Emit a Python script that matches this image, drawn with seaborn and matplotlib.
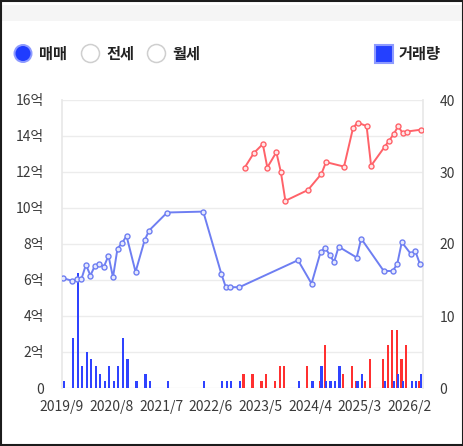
import matplotlib
matplotlib.use("Agg")
import numpy as np
import pandas as pd
import matplotlib.pyplot as plt
import seaborn as sns
from matplotlib.patches import Circle, Rectangle
from matplotlib.ticker import FuncFormatter

sns.set_theme(style="white")
plt.rcParams['font.family'] = ['Noto Sans CJK KR', 'DejaVu Sans']

# x axis runs monthly from 2019/9
tick_labels = ['2019/9', '2020/8', '2021/7', '2022/6', '2023/5', '2024/4', '2025/3', '2026/2']

# 매매 (sale) price, 억
sale_months = ['2019/9', '2019/11', '2019/12', '2020/1', '2020/2', '2020/3', '2020/4', '2020/5',
               '2020/6', '2020/7', '2020/8', '2020/9', '2020/10', '2020/11', '2021/1', '2021/3',
               '2021/4', '2021/8', '2022/4', '2022/8', '2022/9', '2022/10', '2022/12', '2024/1',
               '2024/4', '2024/6', '2024/7', '2024/8', '2024/9', '2024/10', '2025/2', '2025/3',
               '2025/8', '2025/10', '2025/11', '2025/12', '2026/2', '2026/3', '2026/4']
sale_price = [6.1, 5.95, 6.05, 6.05, 6.85, 6.25, 6.8, 6.9, 6.75, 7.35, 6.15, 7.75, 8.05, 8.45,
              6.45, 8.2, 8.75, 9.75, 9.8, 6.35, 5.6, 5.6, 5.6, 7.1, 5.8, 7.55, 7.8, 7.4, 7.0,
              7.85, 7.25, 8.3, 6.5, 6.5, 6.9, 8.1, 7.45, 7.6, 6.9]
sale_count = [1, 7, 16, 3, 5, 4, 3, 2, 1, 3, 1, 3, 7, 4, 1, 2, 1, 1, 1, 1, 1, 1, 1, 1, 1, 3, 1,
              1, 1, 3, 1, 2, 1, 1, 2, 1, 1, 1, 2]

# 전세 (lease) price, 억
lease_months = ['2023/1', '2023/3', '2023/5', '2023/6', '2023/8', '2023/9', '2023/10', '2024/3',
                '2024/6', '2024/7', '2024/11', '2025/1', '2025/2', '2025/4', '2025/5', '2025/8',
                '2025/9', '2025/10', '2025/11', '2025/12', '2026/1', '2026/4']
lease_price = [12.25, 13.05, 13.55, 12.25, 13.1, 12.0, 10.4, 11.0, 11.9, 12.55, 12.3, 14.45,
               14.75, 14.55, 12.35, 13.4, 13.75, 14.1, 14.55, 14.15, 14.25, 14.35]
lease_count = [2, 2, 1, 2, 1, 3, 3, 3, 1, 6, 2, 3, 1, 1, 4, 4, 6, 8, 8, 4, 6, 1]


def month_idx(s):
    y, m = map(int, s.split('/'))
    return (y - 2019) * 12 + (m - 9)


sale = pd.DataFrame({'m': [month_idx(s) for s in sale_months],
                     'price': sale_price, 'count': sale_count})
lease = pd.DataFrame({'m': [month_idx(s) for s in lease_months],
                      'price': lease_price, 'count': lease_count})

blue_line = '#6e7ef2'
red_line = '#ff6269'
blue_bar = '#2f43ff'
red_bar = '#ff3030'
text_col = '#3a3a3a'

W, H = 464, 446
fig = plt.figure(figsize=(W / 100, H / 100), dpi=100)
fig.patch.set_facecolor('white')

x0, x1, y0, y1 = 62, 423, 100, 388
ax_bar = fig.add_axes([x0 / W, 1 - y1 / H, (x1 - x0) / W, (y1 - y0) / H])
ax_line = ax_bar.twinx()

# volume bars (right axis)
sns.barplot(x=lease['m'] + 0.22, y=lease['count'], native_scale=True, color=red_bar,
            saturation=1, width=0.48, linewidth=0, errorbar=None, ax=ax_bar)
sns.barplot(x=sale['m'] + 0.5, y=sale['count'], native_scale=True, color=blue_bar,
            saturation=1, width=0.48, linewidth=0, errorbar=None, ax=ax_bar)

# price lines (left axis)
sns.lineplot(x=sale['m'] + 0.3, y=sale['price'], ax=ax_line, color=blue_line, linewidth=1.4,
             marker='o', markersize=3.6, markerfacecolor='#e6e9fd', markeredgecolor=blue_line,
             markeredgewidth=1.0)
sns.lineplot(x=lease['m'] + 0.5, y=lease['price'], ax=ax_line, color=red_line, linewidth=1.4,
             marker='o', markersize=3.6, markerfacecolor='#ffe6e7', markeredgecolor=red_line,
             markeredgewidth=1.0)

ax_bar.set_xlim(0, 80)
ax_bar.set_ylim(0, 40)
ax_line.set_ylim(0, 16)
ax_bar.set_xticks([month_idx(t) for t in tick_labels])
ax_bar.set_xticklabels(tick_labels)

ax_bar.yaxis.tick_right()
ax_line.yaxis.tick_left()
ax_bar.set_yticks([0, 10, 20, 30, 40])
ax_bar.set_yticks([5, 15, 25, 35], minor=True)
ax_line.set_yticks(np.arange(0, 17, 2))
ax_line.yaxis.set_major_formatter(FuncFormatter(lambda v, p: '0' if v == 0 else f'{int(v)}억'))

ax_bar.grid(True, which='both', axis='y', color='#ececec', linewidth=1)
ax_bar.grid(False, axis='x')
ax_line.grid(False)
ax_bar.set_axisbelow(True)
for a in (ax_bar, ax_line):
    a.set_xlabel('')
    a.set_ylabel('')
    for s in a.spines.values():
        s.set_visible(False)
ax_bar.spines['left'].set_visible(True)
ax_bar.spines['right'].set_visible(True)
ax_bar.spines['left'].set_color('#e8e8e8')
ax_bar.spines['right'].set_color('#e8e8e8')

ax_bar.tick_params(axis='x', length=0, pad=9, labelsize=10, labelcolor=text_col)
ax_bar.tick_params(axis='y', which='both', length=0, pad=12, labelsize=10, labelcolor=text_col)
ax_line.tick_params(axis='y', length=0, pad=13, labelsize=10, labelcolor=text_col)

# frame, top strip and legend widgets
ov = fig.add_axes([0, 0, 1, 1], zorder=5)
ov.set_xlim(0, W)
ov.set_ylim(H, 0)
ov.axis('off')
ov.patch.set_alpha(0)
ov.add_patch(Rectangle((2, 5), W - 4, 16, facecolor='#f5f5f5', edgecolor='none'))
ov.add_patch(Rectangle((1, 1), W - 2, H - 2, fill=False, edgecolor='#1c1c1c', linewidth=1.5))

ov.add_patch(Circle((23, 53.5), 9.5, facecolor='#8e9bff', edgecolor='none'))
ov.add_patch(Circle((23, 53.5), 7.5, facecolor='#1f3cff', edgecolor='none'))
for cx in (90.5, 156.5):
    ov.add_patch(Circle((cx, 53.5), 9, facecolor='white', edgecolor='#cfcfcf', linewidth=1.1))
for tx, label in ((39, '매매'), (106, '전세'), (172, '월세')):
    ov.text(tx, 53.5, label, fontsize=11, fontweight='bold', color='#222222',
            ha='left', va='center')

ov.add_patch(Rectangle((375, 45), 18, 18, facecolor='#2440ff', edgecolor='#8e9bff', linewidth=1.5))
ov.text(399, 53.5, '거래량', fontsize=11, fontweight='bold', color='#222222',
        ha='left', va='center')

fig.savefig('out.png', dpi=100)
